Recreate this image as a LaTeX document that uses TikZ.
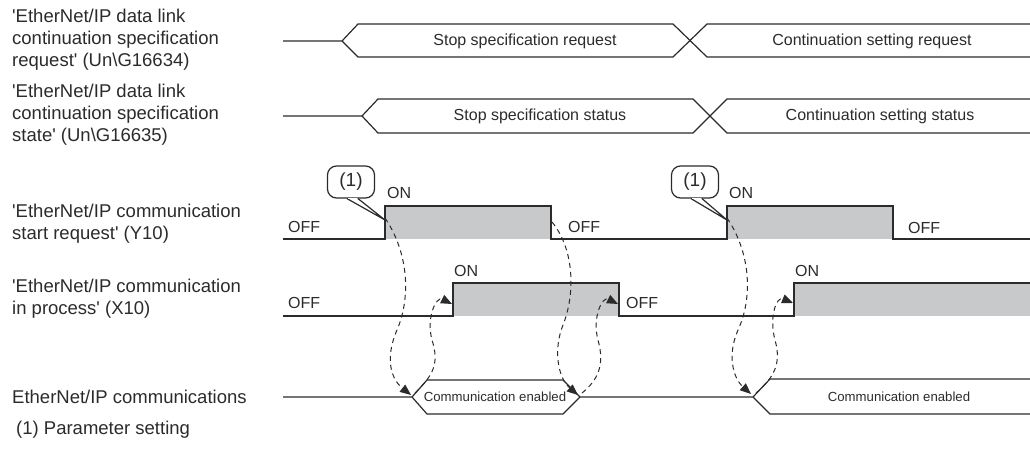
\documentclass[tikz,border=0pt]{standalone}
\usepackage{fontspec}
\setmainfont{Liberation Sans}
\usetikzlibrary{arrows.meta}
\definecolor{ink}{HTML}{2B2B2B}
\definecolor{pulse}{HTML}{C8C9CA}
\newcommand{\sq}{\textquotesingle}
\begin{document}
\begin{tikzpicture}[x=1pt,y=-1pt,
  wire/.style={draw=ink, line width=1.2pt, line join=miter},
  lbl/.style={anchor=west, align=left, inner sep=0pt, text=ink, font=\fontsize{18.5}{22}\selectfont},
  bustext/.style={inner sep=0pt, text=ink, font=\fontsize{16}{19}\selectfont},
  smalltext/.style={inner sep=0pt, text=ink, font=\fontsize{13.2}{16}\selectfont},
  lvl/.style={anchor=west, inner sep=0pt, text=ink, font=\fontsize{16}{19}\selectfont},
  bubble/.style={draw=ink, line width=1.2pt, fill=white, rounded corners=9pt, minimum width=47pt, minimum height=32pt, inner sep=0pt, text=ink, font=\fontsize{19}{22}\selectfont},
  flow/.style={draw=ink, line width=1pt, dash pattern=on 5pt off 4pt, -{Triangle[length=11pt,width=9pt]}},
]
\useasboundingbox (0,0) rectangle (1030,452);

% ---------- left labels ----------
\node[lbl] (l1) at (12,40) {\sq EtherNet/IP data link\\continuation specification\\request\sq{} (Un\textbackslash G16634)};
\node[lbl] (l2) at (12,115) {\sq EtherNet/IP data link\\continuation specification\\state\sq{} (Un\textbackslash G16635)};
\node[lbl] (l3) at (12,224) {\sq EtherNet/IP communication\\start request\sq{} (Y10)};
\node[lbl] (l4) at (12,299) {\sq EtherNet/IP communication\\in process\sq{} (X10)};
\node[lbl] (l5) at (12,397) {EtherNet/IP communications};
\node[lbl] (l6) at (16,430) {(1) Parameter setting};

% ---------- row 1: request ----------
\draw[wire] (283,41) -- (342,41) -- (358,24) -- (673,24) -- (707,57) -- (1030,57);
\draw[wire] (342,41) -- (358,57) -- (673,57) -- (707,24) -- (1030,24);
\node[bustext] (r1a) at (525,41) {Stop specification request};
\node[bustext] (r1b) at (872,41) {Continuation setting request};

% ---------- row 2: status ----------
\draw[wire] (283,116) -- (362,116) -- (378,99) -- (693,99) -- (727,133) -- (1030,133);
\draw[wire] (362,116) -- (378,133) -- (693,133) -- (727,99) -- (1030,99);
\node[bustext] (r2a) at (540,116) {Stop specification status};
\node[bustext] (r2b) at (880,116) {Continuation setting status};

% ---------- row 3: Y10 ----------
\fill[pulse] (385,206) rectangle (551,239);
\fill[pulse] (727,206) rectangle (893,239);
\draw[wire] (283,239) -- (385,239) -- (385,206) -- (551,206) -- (551,239) -- (727,239) -- (727,206) -- (893,206) -- (893,239) -- (1030,239);
\coordinate (reqon1) at (385,220);
\coordinate (reqoff1) at (552,222);
\coordinate (reqon2) at (727,220);
\node[lvl] (y10off1) at (288,227) {OFF};
\node[lvl] (y10on1) at (387,193) {ON};
\node[lvl] (y10off2) at (568,227) {OFF};
\node[lvl] (y10on2) at (729,193) {ON};
\node[lvl] (y10off3) at (908,228) {OFF};

% ---------- row 4: X10 ----------
\fill[pulse] (453,283) rectangle (619,316);
\fill[pulse] (794,283) rectangle (1030,316);
\draw[wire] (283,316) -- (453,316) -- (453,283) -- (619,283) -- (619,316) -- (794,316) -- (794,283) -- (1030,283);
\coordinate (inpon1) at (452,304);
\coordinate (inpoff1) at (618,304);
\coordinate (inpon2) at (793,303);
\node[lvl] (x10off1) at (288,303) {OFF};
\node[lvl] (x10on1) at (454,271) {ON};
\node[lvl] (x10off2) at (626,303) {OFF};
\node[lvl] (x10on2) at (795,271) {ON};

% ---------- row 5: communications ----------
\draw[wire] (283,397) -- (412,397) -- (427,380) -- (563,380) -- (580,397) -- (753,397) -- (770,379) -- (1030,379);
\draw[wire] (412,397) -- (427,414) -- (563,414) -- (580,397);
\draw[wire] (753,397) -- (770,414) -- (1030,414);
\node[smalltext] (en1) at (495,397) {Communication enabled};
\node[smalltext] (en2) at (899,397) {Communication enabled};
\coordinate (en1l) at (411,395);
\coordinate (en1ls) at (415,393);
\coordinate (en1r) at (578,395);
\coordinate (en1rs) at (582,393);
\coordinate (en2l) at (751,394);
\coordinate (en2ls) at (756,393);

% ---------- bubbles (1) ----------
\node[bubble] (b1) at (351,182) {(1)};
\filldraw[wire, fill=white] ([xshift=-4pt]b1.south) -- (reqon1) -- ([xshift=7pt]b1.south);
\draw[white, line width=1.6pt] ([xshift=-3pt]b1.south) -- ([xshift=6pt]b1.south);
\node[bubble] (b2) at (695,182) {(1)};
\filldraw[wire, fill=white] ([xshift=-4pt]b2.south) -- (reqon2) -- ([xshift=7pt]b2.south);
\draw[white, line width=1.6pt] ([xshift=-3pt]b2.south) -- ([xshift=6pt]b2.south);

% ---------- dashed cause/effect arrows ----------
\draw[flow] ([yshift=2pt]reqon1) .. controls (410,255) and (410,300) .. (397,330)
  .. controls (384,360) and (392,380) .. (en1l);
\draw[flow] (en1ls) .. controls (432,376) and (440,365) .. (432,340)
  .. controls (426,318) and (436,296) .. (inpon1);
\draw[flow] (reqoff1) .. controls (575,250) and (575,295) .. (563,325)
  .. controls (553,350) and (558,378) .. (en1r);
\draw[flow] (en1rs) .. controls (598,380) and (605,365) .. (598,340)
  .. controls (592,318) and (602,296) .. (inpoff1);
\draw[flow] ([yshift=2pt]reqon2) .. controls (752,255) and (752,300) .. (738,330)
  .. controls (727,355) and (733,378) .. (en2l);
\draw[flow] (en2ls) .. controls (773,378) and (782,365) .. (775,340)
  .. controls (769,318) and (776,296) .. (inpon2);
\end{tikzpicture}
\end{document}
